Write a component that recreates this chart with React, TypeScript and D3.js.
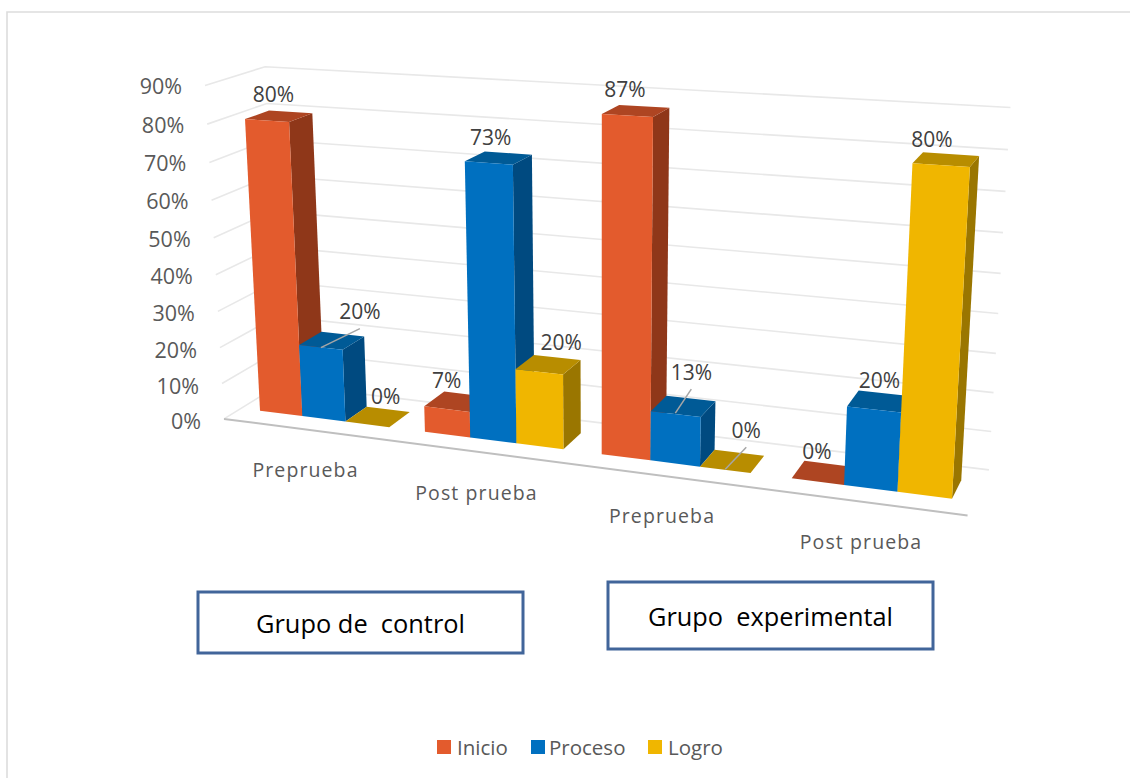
import React from "react";
import * as d3 from "d3";

const groups = ["Preprueba", "Post prueba", "Preprueba", "Post prueba"];
const seriesNames = ["Inicio", "Proceso", "Logro"];
const inicio = [80, 7, 87, 0];
const proceso = [20, 73, 13, 20];
const logro = [0, 20, 0, 80];
const yTicks = [0, 10, 20, 30, 40, 50, 60, 70, 80, 90];
const boxTitles = ["Grupo de  control", "Grupo  experimental"];

const seriesValues = [inicio, proceso, logro];
const faceColors = ["#E35B2D", "#0070C0", "#F0B600"];
const topColors = ["#AE4522", "#005A96", "#B88D00"];
const sideColors = ["#8F3719", "#004A80", "#9A7600"];

// offset of each data label from the centre of its bar top: [series][group]
const labelNudge = [
  [[-5.5, -22.5], [-10, -21.5], [-11, -22], [-7, -21.5]],
  [[28, -29.5], [-8, -21], [8, -34.5], [0, -21.5]],
  [[8, -20.5], [13, -22.5], [14, -31.5], [-14, -21]],
];
// leader lines (series, group, from, to) relative to the centre of the bar top
const leaders = [
  { s: 1, g: 0, a: [-11, 7], b: [28, -12] },
  { s: 1, g: 2, a: [-8, 7], b: [8, -17] },
  { s: 2, g: 2, a: [-7, 8], b: [14, -14] },
];

// Perspective projection of the 3D chart box: u along the floor, n = normalised value, w = depth
const project = (u: number, n: number, w: number): [number, number] => {
  const d = 1 - 0.00883 * u - 0.0475 * n + 0.0216 * w;
  return [
    (260 + 39.65 * u - 28.5 * n + 28.81 * w) / d,
    (410.7 + 1.706 * u - 333.7 * n - 5.75 * w) / d,
  ];
};

const groupScale = d3.scaleBand<number>().domain([0, 1, 2, 3]).range([0, 14.4]).paddingInner(0.8 / 3.8);
const seriesScale = d3.scaleBand<number>().domain([0, 1, 2]).range([0, groupScale.bandwidth()]);
const valueScale = d3.scaleLinear().domain([0, 90]).range([0, 1]);
const U0 = -0.45;
const U1 = 14.8;
const W0 = -0.72;
const W1 = 1.73;

const line = d3.line<[number, number]>();
const poly = (pts: [number, number][]) => line(pts) + "Z";

const catLabelPos = [
  [305.5, 469],
  [476.5, 492],
  [662, 515],
  [861, 541],
];

const sans = "'Open Sans', sans-serif";

export default function App() {
  const bars: React.ReactNode[] = [];
  const labels: React.ReactNode[] = [];
  groups.forEach((_, g) => {
    seriesNames.forEach((_, s) => {
      const val = seriesValues[s][g];
      const u0 = groupScale(g)! + seriesScale(s)!;
      const u1 = u0 + seriesScale.bandwidth();
      const n = valueScale(val);
      bars.push(
        <g key={`${g}-${s}`}>
          <path d={poly([project(u1, 0, 0), project(u1, 0, 1), project(u1, n, 1), project(u1, n, 0)])} fill={sideColors[s]} />
          <path d={poly([project(u0, n, 0), project(u1, n, 0), project(u1, n, 1), project(u0, n, 1)])} fill={topColors[s]} />
          <path d={poly([project(u0, 0, 0), project(u1, 0, 0), project(u1, n, 0), project(u0, n, 0)])} fill={faceColors[s]} />
        </g>
      );
      const [cx, cy] = project((u0 + u1) / 2, n, 0.5);
      const [dx, dy] = labelNudge[s][g];
      labels.push(
        <text key={`l${g}-${s}`} x={cx + dx} y={cy + dy} textAnchor="middle" dominantBaseline="central" fontFamily={sans} fontSize={21} fill="#404040">
          {d3.format(".0%")(val / 100)}
        </text>
      );
      leaders
        .filter((l) => l.s === s && l.g === g)
        .forEach((l) => {
          labels.push(
            <line key={`ld${g}-${s}`} x1={cx + l.a[0]} y1={cy + l.a[1]} x2={cx + l.b[0]} y2={cy + l.b[1]} stroke="#A6A6A6" strokeWidth={1.5} />
          );
        });
    });
  });

  const legendX = [[437, 457], [531, 549], [648, 668]];

  return (
    <svg width={1130} height={778} style={{ position: "absolute", left: 0, top: 0, background: "#fff" }}>
      <path d="M7,778V12H1130" fill="none" stroke="#DDDDDD" strokeWidth={1.6} />
      {yTicks.map((t) => {
        const n = valueScale(t);
        const pts = [project(U0, n, W0), project(U0, n, W1), project(U1, n, W1)];
        return <path key={t} d={line(pts)!} fill="none" stroke="#E8E8E8" strokeWidth={1.6} />;
      })}
      <path d={line([project(U0, 0, W0), project(U1, 0, W0)])!} stroke="#BFBFBF" strokeWidth={2} fill="none" />
      {bars}
      {labels}
      {yTicks.map((t) => {
        const n = valueScale(t);
        const [x, y] = project(U0, n, W0);
        return (
          <text key={t} x={x - 23} y={y + 2 * (1 - n)} textAnchor="end" dominantBaseline="central" fontFamily={sans} fontSize={21.5} fill="#595959">
            {d3.format(".0%")(t / 100)}
          </text>
        );
      })}
      {groups.map((g, i) => (
        <text key={i} x={catLabelPos[i][0]} y={catLabelPos[i][1]} textAnchor="middle" dominantBaseline="central" fontFamily={sans} fontSize={19.5} letterSpacing={1.1} fill="#595959">
          {g}
        </text>
      ))}
      <rect x={198} y={592} width={325} height={61} fill="#fff" stroke="#41659A" strokeWidth={3} />
      <rect x={608} y={582} width={325} height={67} fill="#fff" stroke="#41659A" strokeWidth={3} />
      <text x={360.5} y={623} textAnchor="middle" dominantBaseline="central" fontFamily={sans} fontSize={26} fill="#000" textLength={209} lengthAdjust="spacingAndGlyphs" style={{ whiteSpace: "pre" }}>
        {boxTitles[0]}
      </text>
      <text x={770.5} y={616} textAnchor="middle" dominantBaseline="central" fontFamily={sans} fontSize={26} fill="#000" textLength={245} lengthAdjust="spacingAndGlyphs" style={{ whiteSpace: "pre" }}>
        {boxTitles[1]}
      </text>
      {seriesNames.map((name, i) => (
        <g key={name}>
          <rect x={legendX[i][0]} y={740} width={14} height={14} fill={faceColors[i]} />
          <text x={legendX[i][1]} y={747} dominantBaseline="central" fontFamily={sans} fontSize={20.5} fill="#595959">
            {name}
          </text>
        </g>
      ))}
    </svg>
  );
}
